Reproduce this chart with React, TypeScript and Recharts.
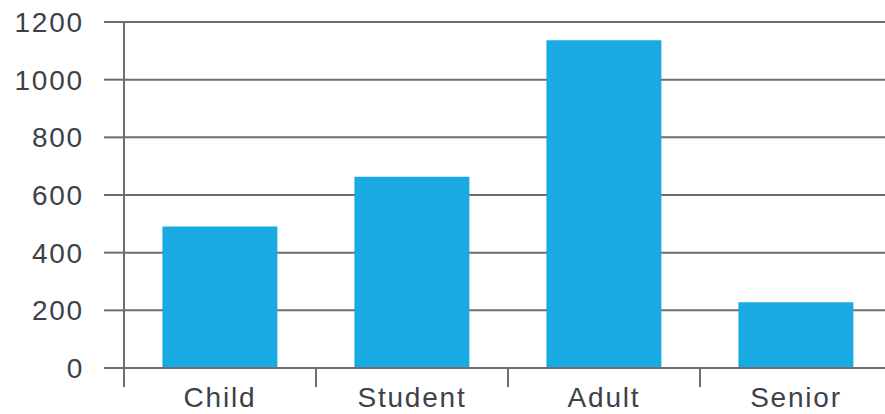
import { BarChart, Bar, XAxis, YAxis, CartesianGrid } from "recharts";

const categories = ["Child", "Student", "Adult", "Senior"];
const counts = [491, 663, 1137, 228];
const yTicks = [0, 200, 400, 600, 800, 1000, 1200];

const data = categories.map((name, i) => ({ name, count: counts[i] }));

const GRID = "#6d6e71";
const TEXT = "#3b4249";
const FONT = "'Liberation Sans', Arial, Helvetica, sans-serif";

// category label centred under the band, plus a boundary tick on its left edge
function CategoryTick(props: any) {
  const { x, y, payload } = props;
  const left = x - (payload.offset ?? 0);
  return (
    <g>
      <line x1={left} y1={y} x2={left} y2={y + 19} stroke={GRID} strokeWidth={2} />
      <text
        x={x}
        y={y + 39}
        textAnchor="middle"
        fill={TEXT}
        fontSize={28}
        fontFamily={FONT}
        letterSpacing={1.8}
      >
        {payload.value}
      </text>
    </g>
  );
}

export default function App() {
  return (
    <div style={{ position: "absolute", left: 0, top: 0, width: 885, height: 414, overflow: "hidden", background: "#fff" }}>
      <BarChart
        width={892}
        height={414}
        data={data}
        margin={{ top: 22, right: 0, bottom: 0, left: 0 }}
        barCategoryGap="20%"
      >
        <CartesianGrid vertical={false} stroke={GRID} strokeWidth={2} />
        <XAxis
          dataKey="name"
          height={46}
          axisLine={{ stroke: GRID, strokeWidth: 2 }}
          tickLine={false}
          tickSize={0}
          tickMargin={0}
          tick={<CategoryTick />}
          interval={0}
        />
        <YAxis
          width={124}
          domain={[0, 1200]}
          ticks={yTicks}
          axisLine={{ stroke: GRID, strokeWidth: 2 }}
          tickLine={{ stroke: GRID, strokeWidth: 2 }}
          tickSize={20}
          tickMargin={20}
          tick={{ fill: TEXT, fontSize: 28, fontFamily: FONT, letterSpacing: 1.8 }}
        />
        <Bar dataKey="count" fill="#19aae2" isAnimationActive={false} />
      </BarChart>
    </div>
  );
}
